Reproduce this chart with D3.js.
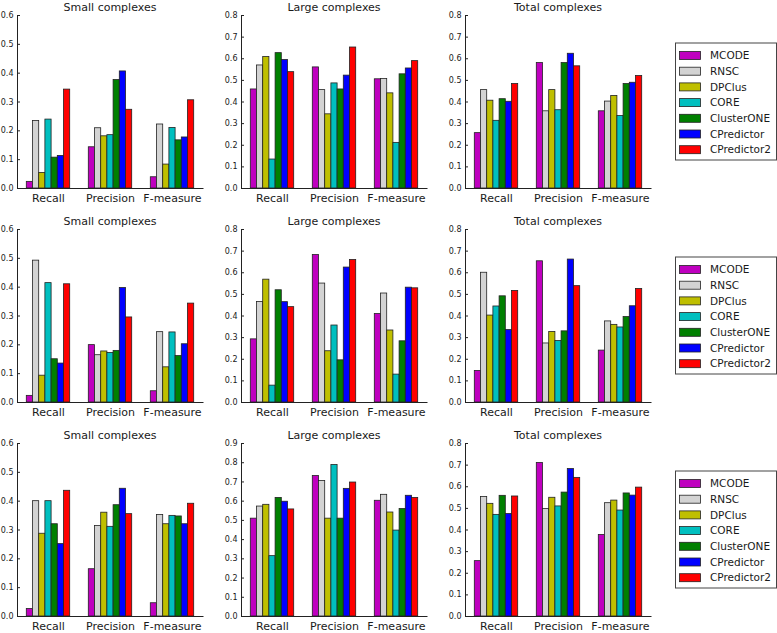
<!DOCTYPE html>
<html>
<head>
<meta charset="utf-8">
<script src="https://cdn.jsdelivr.net/npm/d3@7/dist/d3.min.js"></script>
<style>
html,body{margin:0;padding:0;background:#fff;}
svg{display:block;font-family:"DejaVu Sans",sans-serif;}
</style>
</head>
<body>
<svg id="chart" width="777" height="633"></svg>
<script>
const methods = ["MCODE","RNSC","DPClus","CORE","ClusterONE","CPredictor","CPredictor2"];
const colors = ["#bf00bf","#d3d3d3","#bfbf00","#00bfbf","#008000","#0000ff","#ff0000"];
const metrics = ["Recall","Precision","F-measure"];
const panelTitles = ["Small complexes","Large complexes","Total complexes"];
const yMaxes = [[0.6,0.8,0.8],[0.6,0.8,0.8],[0.6,0.9,0.8]];

// values[metric][method]
const row1Small = [
  [0.023,0.234,0.054,0.239,0.107,0.113,0.343],
  [0.143,0.209,0.181,0.185,0.376,0.406,0.273],
  [0.039,0.222,0.083,0.210,0.167,0.177,0.306]];
const row1Large = [
  [0.458,0.569,0.608,0.134,0.626,0.594,0.538],
  [0.560,0.455,0.343,0.486,0.458,0.522,0.652],
  [0.505,0.506,0.440,0.211,0.528,0.555,0.589]];
const row1Total = [
  [0.256,0.455,0.406,0.313,0.413,0.401,0.483],
  [0.580,0.357,0.455,0.362,0.580,0.623,0.565],
  [0.357,0.402,0.428,0.335,0.483,0.489,0.520]];
const row2Small = [
  [0.023,0.492,0.093,0.414,0.150,0.135,0.410],
  [0.199,0.164,0.177,0.172,0.179,0.397,0.295],
  [0.039,0.244,0.122,0.243,0.161,0.202,0.343]];
const row2Large = [
  [0.292,0.465,0.568,0.078,0.519,0.464,0.441],
  [0.682,0.550,0.237,0.356,0.195,0.624,0.659],
  [0.409,0.504,0.333,0.129,0.283,0.531,0.528]];
const row2Total = [
  [0.146,0.600,0.402,0.444,0.491,0.335,0.516],
  [0.653,0.273,0.326,0.284,0.329,0.661,0.538],
  [0.240,0.375,0.359,0.347,0.395,0.445,0.525]];
const row3Small = [
  [0.026,0.400,0.287,0.400,0.320,0.251,0.436],
  [0.164,0.314,0.360,0.311,0.386,0.443,0.355],
  [0.046,0.352,0.320,0.349,0.347,0.320,0.391]];
const row3Large = [
  [0.509,0.572,0.581,0.314,0.617,0.597,0.557],
  [0.731,0.705,0.509,0.788,0.509,0.664,0.697],
  [0.602,0.633,0.541,0.447,0.559,0.628,0.617]];
const row3Total = [
  [0.256,0.553,0.521,0.470,0.558,0.474,0.555],
  [0.710,0.497,0.549,0.509,0.573,0.682,0.641],
  [0.377,0.524,0.536,0.490,0.569,0.559,0.596]];

const rows = [[row1Small,row1Large,row1Total],[row2Small,row2Large,row2Total],[row3Small,row3Large,row3Total]];

const svg = d3.select("#chart");
const panelLeft = [17,241,465];
const rowTop = [15,229,443];
const pw = 186, ph = 173;
const barW = 0.1;
const textColor = "#1a1a1a";

rows.forEach((row, ri) => {
  row.forEach((vals, pi) => {
    const g = svg.append("g").attr("transform", `translate(${panelLeft[pi]},${rowTop[ri]})`);
    const x = d3.scaleLinear().domain([-0.15, 2.85]).range([0, pw]);
    const y = d3.scaleLinear().domain([0, yMaxes[ri][pi]]).range([ph, 0]);

    vals.forEach((mv, mi) => {
      mv.forEach((v, k) => {
        const x0 = x(mi + k*barW), x1 = x(mi + (k+1)*barW);
        g.append("rect")
          .attr("x", x0).attr("y", y(v))
          .attr("width", x1 - x0).attr("height", y(0) - y(v))
          .attr("fill", colors[k])
          .attr("stroke", "#222").attr("stroke-width", 0.8);
      });
    });

    // y axis
    const ticks = d3.range(0, yMaxes[ri][pi] + 1e-9, 0.1);
    const yAxis = d3.axisLeft(y).tickValues(ticks).tickFormat(d3.format(".1f")).tickSizeInner(-3).tickSizeOuter(0).tickPadding(3.5);
    const ya = g.append("g").call(yAxis);
    ya.select(".domain").attr("stroke", "#222");
    ya.selectAll(".tick line").attr("stroke", "#222");
    ya.selectAll("text").attr("font-size", 8).attr("fill", textColor).attr("font-family", "DejaVu Sans");

    // x axis line
    const xAxis = d3.axisBottom(x).tickValues(metrics.map((m,i)=> i + 0.35)).tickFormat((d,i)=>metrics[i]).tickSize(0).tickPadding(6);
    const xa = g.append("g").attr("transform", `translate(0,${ph})`).call(xAxis);
    xa.select(".domain").attr("stroke", "#222");
    xa.selectAll("text").attr("font-size", 11).attr("fill", textColor).attr("font-family", "DejaVu Sans");

    g.append("text")
      .attr("x", pw/2).attr("y", -4)
      .attr("text-anchor", "middle")
      .attr("font-size", 11).attr("fill", textColor)
      .text(panelTitles[pi]);
  });

  // legend
  const cy = rowTop[ri] + ph/2;
  const lg = svg.append("g").attr("transform", `translate(675,${cy - 59})`);
  lg.append("rect").attr("x", 0.5).attr("y", 0.5).attr("width", 101).attr("height", 117)
    .attr("fill", "#fff").attr("stroke", "#444").attr("stroke-width", 1);
  methods.forEach((m, k) => {
    const yy = 13 + k*15.7;
    lg.append("rect").attr("x", 4.5).attr("y", yy - 4).attr("width", 21).attr("height", 8)
      .attr("fill", colors[k]).attr("stroke", "#222").attr("stroke-width", 0.8);
    lg.append("text").attr("x", 35).attr("y", yy).attr("dy", "0.35em")
      .attr("font-size", 10.5).attr("fill", textColor).text(m);
  });
});
</script>
</body>
</html>
